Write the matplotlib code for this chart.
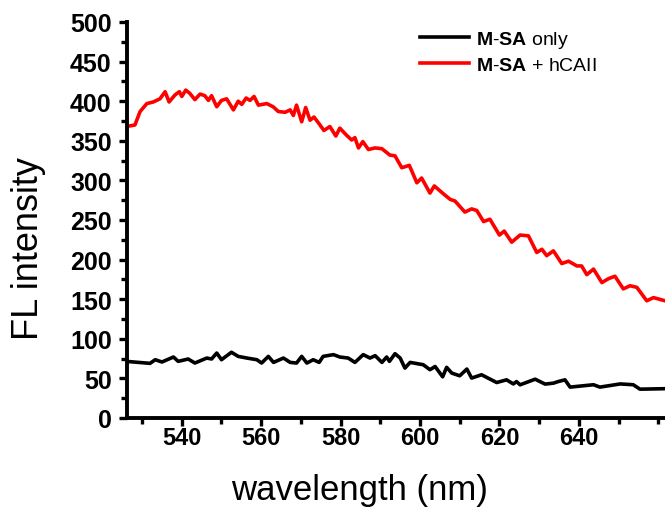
import matplotlib
matplotlib.use("Agg")
import matplotlib.pyplot as plt
from matplotlib.ticker import MultipleLocator
from matplotlib.lines import Line2D

# ---- data ----
red_x = [526.0, 528.2, 529.5, 531.2, 532.8, 534.5, 535.8, 536.8, 538.3, 539.4,
         540.0, 541.0, 542.0, 543.3, 544.6, 545.8, 546.7, 547.5, 548.8, 550.0,
         551.3, 553.0, 554.2, 555.1, 556.2, 557.2, 558.2, 559.3, 561.4, 563.0,
         564.3, 566.0, 567.3, 568.1, 568.9, 570.2, 571.2, 572.3, 573.3, 574.8,
         575.8, 577.3, 578.8, 579.8, 581.5, 582.8, 583.6, 584.5, 585.6, 587.0,
         588.7, 590.4, 592.4, 593.7, 595.4, 597.3, 599.2, 600.4, 602.5, 603.6,
         605.9, 607.6, 608.8, 611.3, 613.0, 614.3, 616.0, 617.6, 620.0, 621.2,
         623.1, 625.2, 627.3, 629.4, 630.7, 631.9, 633.6, 635.7, 637.4, 639.5,
         640.7, 642.0, 643.7, 645.8, 647.5, 649.1, 651.2, 652.9, 654.6, 657.1,
         658.8, 661.7]
red_y = [368, 370, 387, 397, 399, 403, 412, 399, 408, 412,
         406, 414, 410, 402, 409, 407, 401, 407, 393, 401,
         403, 389, 400, 396, 404, 401, 406, 395, 397, 393,
         387, 386, 389, 382, 395, 374, 392, 376, 380, 370,
         363, 368, 356, 366, 357, 351, 354, 341, 349, 339,
         341, 340, 332, 331, 316, 319, 297, 303, 284, 293,
         283, 276, 274, 260, 264, 262, 248, 251, 231, 236,
         222, 231, 230, 209, 213, 205, 211, 195, 198, 192,
         192, 181, 188, 171, 176, 179, 163, 167, 165, 148,
         152, 148]

black_x = [526.0, 532.0, 533.3, 535.0, 537.9, 539.1, 541.6, 543.3, 546.3, 547.5,
           548.8, 550.0, 552.5, 554.2, 556.4, 558.9, 560.1, 561.8, 563.1, 565.6,
           567.3, 568.9, 570.2, 571.5, 573.1, 574.6, 575.6, 578.2, 579.8, 581.9,
           583.6, 585.7, 587.4, 588.7, 590.4, 591.6, 592.3, 593.7, 595.0, 596.2,
           597.5, 600.8, 602.5, 603.8, 605.7, 606.7, 608.0, 610.0, 611.8, 613.0,
           615.5, 619.3, 621.8, 623.5, 624.3, 625.2, 629.0, 631.5, 633.6, 634.8,
           636.5, 637.8, 643.7, 645.3, 650.4, 653.7, 655.4, 661.7]
black_y = [71.5, 69, 73.6, 70.7, 77, 71.5, 74.5, 69.4, 75.7, 74.5,
           82, 73.6, 83, 77.8, 75.7, 73.6, 69.4, 77.8, 70.2, 75.7,
           70.2, 69.4, 77.8, 69.4, 73.6, 70.2, 77.8, 80, 77, 75.7,
           70.2, 80, 75.7, 78.7, 70.2, 77, 71.5, 81.2, 75.7, 63,
           70.2, 67.3, 61, 65, 52, 64, 56.7, 53.3, 61.8, 50.4,
           54.6, 44.8, 48.2, 43, 46, 41.9, 49, 42.8, 44, 46,
           48.2, 39, 42, 39, 43, 42, 36.4, 37]

series_labels = [r"$\mathbf{M}$-$\mathbf{SA}$ only", r"$\mathbf{M}$-$\mathbf{SA}$ + hCAII"]
x_ticks = [540, 560, 580, 600, 620, 640]
y_ticks = [0, 50, 100, 150, 200, 250, 300, 350, 400, 450, 500]
x_label = "wavelength (nm)"
y_label = "FL intensity"

# ---- style ----
plt.rcParams["font.family"] = ["Liberation Sans", "DejaVu Sans"]
plt.rcParams["mathtext.fontset"] = "custom"
plt.rcParams["mathtext.rm"] = "Liberation Sans"
plt.rcParams["mathtext.bf"] = "Liberation Sans:bold"
plt.rcParams["mathtext.it"] = "Liberation Sans:italic"

W, H = 665, 510
fig = plt.figure(figsize=(W / 100, H / 100), dpi=100)
ax_left, ax_right, ax_top, ax_bottom = 127, 665, 23, 419
ax = fig.add_axes([ax_left / W, 1 - ax_bottom / H, (ax_right - ax_left) / W, (ax_bottom - ax_top) / H])

lw = 2.6
ax.plot(black_x, black_y, color="black", lw=lw, solid_joinstyle="round")
ax.plot(red_x, red_y, color="#ff0000", lw=lw, solid_joinstyle="round")

ax.set_xlim(526.2, 661.7)
ax.set_ylim(0, 500)
ax.set_xticks(x_ticks)
ax.set_yticks(y_ticks)
ax.xaxis.set_minor_locator(MultipleLocator(10))
ax.yaxis.set_minor_locator(MultipleLocator(25))

for s in ["top", "right"]:
    ax.spines[s].set_visible(False)
for s in ["left", "bottom"]:
    ax.spines[s].set_linewidth(2.8)

ax.tick_params(which="major", direction="out", length=6, width=2.4)
ax.tick_params(which="minor", direction="out", length=4, width=2.4)
ax.tick_params(axis="y", which="major", pad=5)
ax.tick_params(axis="x", which="major", pad=0)
for lab in ax.get_yticklabels():
    lab.set_fontsize(18)
    lab.set_fontweight("bold")
for lab in ax.get_xticklabels():
    lab.set_fontsize(17)
    lab.set_fontweight("bold")

ax.set_xlabel(x_label, fontsize=25)
ax.set_ylabel(y_label, fontsize=26)
ax.xaxis.set_label_coords((359 - ax_left) / (ax_right - ax_left), (ax_bottom - 474) / (ax_bottom - ax_top))
ax.yaxis.set_label_coords(-0.15, (ax_bottom - 249) / (ax_bottom - ax_top))

handles = [Line2D([], [], color="black", lw=lw), Line2D([], [], color="#ff0000", lw=lw)]
leg = fig.legend(handles, series_labels, loc="center left",
                 bbox_to_anchor=(420 / W, 1 - 52.5 / H), frameon=False,
                 fontsize=14, handlelength=2.5, handletextpad=0.4,
                 borderpad=0, borderaxespad=0, labelspacing=0.35)

fig.savefig("out.png", dpi=100)
